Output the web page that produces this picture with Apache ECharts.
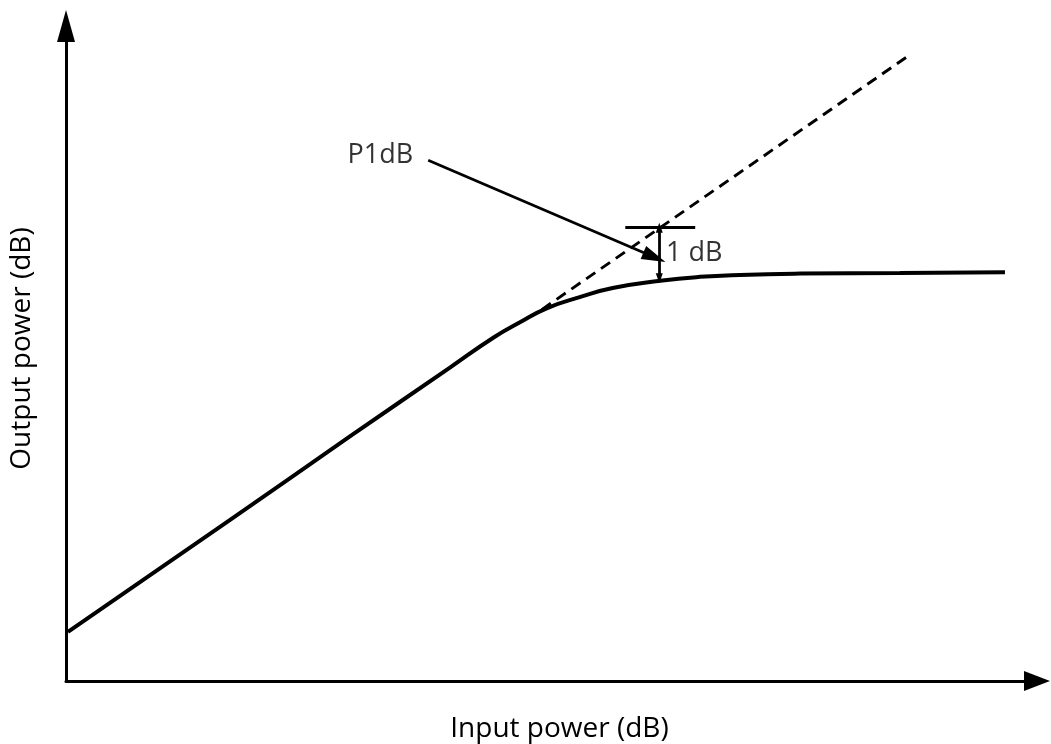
<!DOCTYPE html>
<html>
<head>
<meta charset="utf-8">
<script src="https://cdn.jsdelivr.net/npm/echarts@6/dist/echarts.min.js"></script>
<style>
  html, body { margin: 0; padding: 0; background: #fff; }
  #chart { width: 1051px; height: 744px; }
</style>
</head>
<body>
<div id="chart"></div>
<script>
// amplifier response (arbitrary dB units)
const inputPower = [0.2, 16.9, 29.2, 39.5, 44.0, 46.8, 49.5, 52.9, 56.3, 61.2, 65.3, 69.4, 75.6, 85.9, 96.7];
const outputPower = [7.5, 24.6, 37.3, 47.8, 52.4, 54.8, 56.9, 58.6, 60.0, 61.1, 61.7, 62.0, 62.2, 62.3, 62.4];
// ideal linear gain (dashed extension)
const idealInput = [49.0, 86.6];
const idealOutput = [56.7, 95.3];
// 1 dB compression marker
const p1dbBar = [[57.6, 69.2], [64.8, 69.2]];
const p1dbSpan = [[61.1, 69.2], [61.1, 61.5]];
const p1dbPointer = [[37.3, 79.5], [60.6, 64.7]];
const labels = [
  { name: "P1dB", value: [29.0, 80.2] },
  { name: "1 dB", value: [61.8, 65.3] }
];

const FONT = "'Open Sans', 'Noto Sans', sans-serif";
const INK = "#000";

let chart = echarts.init(document.getElementById("chart"));

let option = {
  animation: false,
  backgroundColor: "#fff",
  grid: { left: 66, right: 14, top: 26, bottom: 63, containLabel: false, outerBoundsMode: "none" },
  xAxis: {
    type: "value",
    min: 0,
    max: 100,
    name: "Input power (dB)",
    nameLocation: "middle",
    nameGap: 34,
    nameTextStyle: { fontFamily: FONT, fontSize: 28, color: INK, padding: [0, 0, 0, 16] },
    axisLine: {
      show: true,
      symbol: ["none", "triangle"],
      symbolSize: [20, 26],
      lineStyle: { color: INK, width: 3 }
    },
    axisTick: { show: false },
    axisLabel: { show: false },
    splitLine: { show: false }
  },
  yAxis: {
    type: "value",
    min: 0,
    max: 100,
    name: "Output power (dB)",
    nameLocation: "middle",
    nameGap: 30,
    nameTextStyle: { fontFamily: FONT, fontSize: 28, color: INK, padding: [0, 0, 0, 10] },
    axisLine: {
      show: true,
      symbol: ["none", "triangle"],
      symbolSize: [18, 32],
      lineStyle: { color: INK, width: 3 }
    },
    axisTick: { show: false },
    axisLabel: { show: false },
    splitLine: { show: false }
  },
  series: [
    {
      name: "ideal",
      type: "line",
      showSymbol: false,
      silent: true,
      data: idealInput.map((x, i) => [x, idealOutput[i]]),
      lineStyle: { color: INK, width: 3, type: [11, 7] },
      z: 2
    },
    {
      name: "output",
      type: "line",
      smooth: 0.5,
      showSymbol: false,
      silent: true,
      data: inputPower.map((x, i) => [x, outputPower[i]]),
      lineStyle: { color: INK, width: 4 },
      z: 3,
      markLine: {
        silent: true,
        animation: false,
        label: { show: false },
        data: [
          [
            { coord: p1dbBar[0], symbol: "none" },
            { coord: p1dbBar[1], symbol: "none" }
          ],
          [
            { coord: p1dbSpan[0], symbol: "triangle", symbolSize: [7, 10] },
            { coord: p1dbSpan[1], symbol: "triangle", symbolSize: [7, 10] }
          ],
          [
            { coord: p1dbPointer[0], symbol: "none" },
            { coord: p1dbPointer[1], symbol: "triangle", symbolSize: [14, 24] }
          ]
        ],
        lineStyle: { color: INK, width: 2.8, type: "solid" }
      }
    },
    {
      name: "labels",
      type: "scatter",
      symbolSize: 0,
      silent: true,
      data: labels,
      label: {
        show: true,
        position: "right",
        distance: 0,
        formatter: p => p.name,
        fontFamily: FONT,
        fontSize: 27,
        color: "#000",
        textBorderWidth: 0
      },
      itemStyle: { color: "#000" }
    }
  ]
};

chart.setOption(option);
</script>
</body>
</html>
